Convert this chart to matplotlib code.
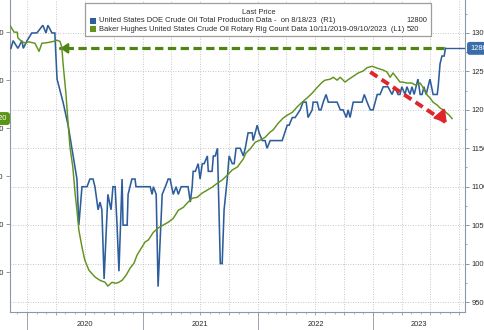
import matplotlib
matplotlib.use("Agg")
import matplotlib.pyplot as plt
import matplotlib.dates as mdates
import matplotlib.transforms as mtransforms
from matplotlib.patches import Rectangle
from matplotlib.ticker import MultipleLocator, FixedLocator
import pandas as pd

W, H = 485, 330
BLUE = '#2e5d9b'
GREEN = '#63921e'
DASH_GREEN = '#4f8512'
RED = '#e0262a'
GRID = '#b4b4b4'
SPINE = '#8b98a5'
TXT = '#2a2a2a'
FONT = 'Liberation Sans'
FS = 5.4

# US crude production, thousand b/d (right axis)
prod_dates = ['2019-11-11', '2019-11-18', '2019-12-03', '2019-12-16', '2019-12-20', '2020-01-01',
              '2020-01-16', '2020-02-01', '2020-02-20', '2020-03-01', '2020-03-07', '2020-03-20',
              '2020-03-29', '2020-04-05', '2020-04-24', '2020-05-10', '2020-05-22', '2020-06-07',
              '2020-06-13', '2020-06-23', '2020-07-09', '2020-07-18', '2020-07-28', '2020-08-03',
              '2020-08-13', '2020-08-19', '2020-08-25', '2020-09-01', '2020-09-13', '2020-09-23',
              '2020-09-29', '2020-10-06', '2020-10-12', '2020-10-18', '2020-10-28', '2020-10-31',
              '2020-11-13', '2020-11-16', '2020-11-28', '2020-12-08', '2020-12-11', '2020-12-17',
              '2021-01-10', '2021-01-25', '2021-01-31', '2021-02-04', '2021-02-13', '2021-02-19',
              '2021-03-04', '2021-03-14', '2021-03-23', '2021-03-29', '2021-04-08', '2021-04-17',
              '2021-04-24', '2021-05-03', '2021-05-25', '2021-06-01', '2021-06-07', '2021-06-10',
              '2021-06-17', '2021-06-26', '2021-07-02', '2021-07-09', '2021-07-15', '2021-07-25',
              '2021-07-28', '2021-08-09', '2021-08-13', '2021-08-19', '2021-08-26', '2021-09-04',
              '2021-09-10', '2021-09-16', '2021-09-26', '2021-10-02', '2021-10-12', '2021-10-18',
              '2021-10-24', '2021-11-06', '2021-11-16', '2021-11-22', '2021-12-01', '2021-12-14',
              '2021-12-17', '2021-12-30', '2022-01-05', '2022-01-15', '2022-01-24', '2022-01-30',
              '2022-02-09', '2022-03-19', '2022-04-04', '2022-04-10', '2022-04-20', '2022-04-29',
              '2022-05-15', '2022-05-24', '2022-06-03', '2022-06-09', '2022-06-22', '2022-06-25',
              '2022-07-08', '2022-07-14', '2022-07-20', '2022-07-27', '2022-08-05', '2022-08-12',
              '2022-09-09', '2022-09-19', '2022-09-28', '2022-10-08', '2022-10-14', '2022-10-20',
              '2022-10-30', '2022-11-27', '2022-12-04', '2022-12-13', '2022-12-23', '2023-01-01',
              '2023-01-14', '2023-01-23', '2023-02-02', '2023-02-17', '2023-03-02', '2023-03-11',
              '2023-03-21', '2023-03-27', '2023-04-02', '2023-04-12', '2023-04-18', '2023-04-28',
              '2023-05-04', '2023-05-11', '2023-05-23', '2023-05-30', '2023-06-05', '2023-06-11',
              '2023-06-18', '2023-06-24', '2023-06-30', '2023-07-10', '2023-07-23', '2023-07-26',
              '2023-08-01', '2023-08-07', '2023-08-14', '2023-08-18']
prod_values = [12800, 12900, 12800, 12900, 12800, 12900,
               13000, 13000, 13100, 13000, 13100, 13000,
               13000, 12400, 12100, 11800, 11500, 11100,
               10500, 11000, 11000, 11100, 11100, 11000,
               10700, 10800, 10700, 9800, 10900, 10700,
               11000, 11000, 10500, 9900, 11100, 10500,
               10500, 10900, 11100, 11100, 11000, 11000,
               11000, 11000, 10900, 11000, 10900, 9700,
               10900, 11000, 11100, 11100, 10900, 11000,
               10900, 11000, 11000, 10800, 11000, 11200,
               11200, 11300, 11100, 11300, 11300, 11400,
               11200, 11200, 11400, 11400, 11500, 10000,
               10000, 10700, 11100, 11400, 11300, 11300,
               11500, 11500, 11400, 11500, 11700, 11700,
               11600, 11800, 11700, 11600, 11600, 11500,
               11600, 11600, 11800, 11800, 11900, 11900,
               12000, 12100, 12100, 11900, 12000, 12100,
               12100, 12000, 12000, 12100, 12200, 12100,
               12100, 12000, 12000, 11900, 12000, 11900,
               12100, 12100, 12200, 12100, 12000, 12000,
               12200, 12200, 12300, 12300, 12200, 12300,
               12200, 12200, 12300, 12200, 12300, 12200,
               12300, 12200, 12400, 12200, 12200, 12300,
               12200, 12300, 12400, 12200, 12200, 12300,
               12600, 12700, 12700, 12800]

# Baker Hughes oil rig count (left axis)
rig_dates = ['2019-11-08', '2019-11-21', '2019-12-01', '2019-12-03', '2019-12-16', '2019-12-29',
             '2020-01-04', '2020-01-26', '2020-02-01', '2020-02-08', '2020-02-17', '2020-03-04',
             '2020-03-20', '2020-04-05', '2020-04-14', '2020-04-20', '2020-04-24', '2020-05-03',
             '2020-05-10', '2020-05-16', '2020-05-25', '2020-06-01', '2020-06-07', '2020-06-13',
             '2020-06-23', '2020-07-02', '2020-07-15', '2020-08-03', '2020-08-19', '2020-09-04',
             '2020-09-13', '2020-09-26', '2020-10-06', '2020-10-15', '2020-10-28', '2020-11-10',
             '2020-11-22', '2020-12-05', '2020-12-14', '2020-12-24', '2021-01-09', '2021-01-19',
             '2021-02-04', '2021-02-19', '2021-03-07', '2021-03-23', '2021-04-08', '2021-04-24',
             '2021-05-10', '2021-05-25', '2021-06-07', '2021-06-23', '2021-07-09', '2021-07-25',
             '2021-08-09', '2021-08-25', '2021-09-10', '2021-09-26', '2021-10-12', '2021-10-28',
             '2021-11-16', '2021-11-24', '2021-12-08', '2021-12-24', '2022-01-08', '2022-01-24',
             '2022-02-09', '2022-02-18', '2022-03-06', '2022-03-22', '2022-04-04', '2022-04-20',
             '2022-05-05', '2022-05-21', '2022-06-06', '2022-06-22', '2022-07-08', '2022-07-24',
             '2022-08-02', '2022-08-18', '2022-08-28', '2022-09-09', '2022-09-19', '2022-10-04',
             '2022-10-14', '2022-10-30', '2022-11-15', '2022-11-30', '2022-12-13', '2022-12-29',
             '2023-01-14', '2023-02-02', '2023-02-14', '2023-02-24', '2023-03-05', '2023-03-18',
             '2023-03-27', '2023-04-05', '2023-04-18', '2023-05-04', '2023-05-14', '2023-05-30',
             '2023-06-08', '2023-06-21', '2023-06-30', '2023-07-10', '2023-07-23', '2023-08-01',
             '2023-08-11', '2023-08-23', '2023-08-30', '2023-09-08']
rig_values = [714, 700, 700, 688, 680, 677,
              680, 677, 669, 660, 677, 678,
              680, 683, 681, 669, 635, 573,
              510, 460, 419, 365, 329, 288,
              252, 225, 204, 190, 183, 179,
              171, 179, 177, 178, 183, 194,
              208, 219, 235, 246, 263, 267,
              283, 292, 298, 304, 312, 329,
              335, 346, 354, 356, 365, 371,
              377, 385, 392, 402, 413, 419,
              436, 448, 457, 471, 475, 481,
              492, 496, 510, 521, 527, 533,
              544, 554, 563, 573, 585, 596,
              600, 602, 606, 600, 606, 596,
              601, 608, 615, 619, 626, 629,
              625, 621, 617, 606, 615, 604,
              596, 596, 594, 594, 590, 594,
              585, 569, 563, 554, 548, 542,
              538, 531, 527, 520]

prod_last = 12800
rig_last = 520
prod_ticks = [9500, 10000, 10500, 11000, 11500, 12000, 12500, 13000]
rig_ticks = [200, 300, 400, 500, 600, 700]
years = [2020, 2021, 2022, 2023]

x_start, x_end = pd.Timestamp('2019-11-08'), pd.Timestamp('2023-10-19')
prod_lim = (9370, 13429)
rig_lim = (117, 767)

# annotation anchors
level_arrow = (pd.Timestamp('2023-08-14'), pd.Timestamp('2020-04-12'))   # green dashed, at prod_last
trend_arrow = ((pd.Timestamp('2022-12-23'), 617), (pd.Timestamp('2023-08-24'), 510))  # red, rig axis

plt.rcParams['font.family'] = [FONT, 'DejaVu Sans']

fig = plt.figure(figsize=(W / 100, H / 100), dpi=100)
fig.patch.set_facecolor('white')
ax = fig.add_axes([10 / W, 18 / H, 455 / W, 312 / H])   # production -> right axis
ax2 = ax.twinx()                                          # rigs -> left axis
ax.yaxis.tick_right()
ax2.yaxis.tick_left()
ax2.patch.set_visible(False)

pdates = pd.to_datetime(prod_dates)
rdates = pd.to_datetime(rig_dates)

ax.plot(pdates, prod_values, color=BLUE, lw=1.15, solid_joinstyle='miter', zorder=3)
ax.plot([pdates[-1], x_end], [prod_last, prod_last], color=BLUE, lw=1.0, zorder=3)
ax2.plot(rdates, rig_values, color=GREEN, lw=1.05, zorder=3)

ax.set_xlim(x_start, x_end)
ax.set_ylim(*prod_lim)
ax2.set_ylim(*rig_lim)

# spines
for a in (ax, ax2):
    for s in a.spines.values():
        s.set_visible(False)
for s in ('left', 'right', 'bottom'):
    ax.spines[s].set_visible(True)
    ax.spines[s].set_color(SPINE)
    ax.spines[s].set_linewidth(0.8)

# y ticks
ax.yaxis.set_major_locator(FixedLocator(prod_ticks))
ax.yaxis.set_minor_locator(MultipleLocator(250))
ax.tick_params(axis='y', which='major', direction='out', length=3, width=0.7, color=SPINE,
               labelsize=FS, labelcolor=TXT, pad=1.5)
ax.tick_params(axis='y', which='minor', direction='out', length=1.5, width=0.6, color=SPINE)
ax2.yaxis.set_major_locator(FixedLocator(rig_ticks))
ax2.tick_params(axis='y', which='major', direction='out', length=3, width=0.7, color=SPINE,
                labelsize=FS, labelcolor=TXT, pad=1.5)

# x ticks: quarterly grid, monthly minor ticks, labels centred in years
ax.xaxis.set_major_locator(mdates.MonthLocator(bymonth=[1, 4, 7, 10]))
ax.xaxis.set_minor_locator(mdates.MonthLocator())
ax.tick_params(axis='x', which='major', direction='out', length=2.2, width=0.6, color=SPINE,
               labelbottom=False)
ax.tick_params(axis='x', which='minor', direction='out', length=1.5, width=0.5, color=SPINE)

ax.grid(True, which='major', axis='both', color=GRID, lw=0.6, linestyle=(0, (1, 2)))
ax.set_axisbelow(True)

xtrans = mtransforms.blended_transform_factory(ax.transData, ax.transAxes)
for y in years:
    start = pd.Timestamp(f'{y}-01-01')
    end = min(pd.Timestamp(f'{y + 1}-01-01'), x_end)
    ax.plot([start, start], [0, -0.06], transform=xtrans, color=SPINE, lw=0.6, clip_on=False)
    ax.text(start + (end - start) / 2, -0.04, str(y), transform=xtrans, ha='center', va='center',
            fontsize=FS, color=TXT)

# green dashed level arrow (at last production level)
ax.plot([level_arrow[0], level_arrow[1]], [prod_last, prod_last], color=DASH_GREEN, lw=2.3,
        linestyle=(0, (2.6, 1.4)), dash_capstyle='butt', zorder=4)
ax.annotate('', xy=(level_arrow[1] - pd.Timedelta(days=6), prod_last),
            xytext=(level_arrow[1] + pd.Timedelta(days=14), prod_last),
            arrowprops=dict(arrowstyle='-|>,head_length=0.45,head_width=0.3', color=DASH_GREEN, lw=1.5),
            zorder=5)

# red dashed trend arrow
(t0, r0), (t1, r1) = trend_arrow
ax2.plot([t0, t1], [r0, r1], color=RED, lw=2.8, linestyle=(0, (2.2, 1.3)), dash_capstyle='butt', zorder=5)
ax2.annotate('', xy=(t1 + pd.Timedelta(days=4), r1 - 3), xytext=(t1 - pd.Timedelta(days=14), r1 + 11),
             arrowprops=dict(arrowstyle='-|>,head_length=0.7,head_width=0.45', color=RED, lw=1.5),
             zorder=6)

# last value tags
rtrans = mtransforms.blended_transform_factory(ax.transAxes, ax.transData)
ax.text(1.0, prod_last, f'{prod_last}',
        transform=rtrans + mtransforms.ScaledTranslation(5 / 100, 0, fig.dpi_scale_trans),
        ha='left', va='center', fontsize=FS, color='white', clip_on=False,
        bbox=dict(boxstyle='round,pad=0.3,rounding_size=0.25', fc='#3b6ea8', ec='#3b6ea8'))
ltrans = mtransforms.blended_transform_factory(ax2.transAxes, ax2.transData)
ax2.text(0.0, rig_last, f'{rig_last}',
         transform=ltrans + mtransforms.ScaledTranslation(-3 / 100, 0, fig.dpi_scale_trans),
         ha='right', va='center', fontsize=FS, color='white', clip_on=False,
         bbox=dict(boxstyle='round,pad=0.3,rounding_size=0.3', fc='#5b9516', ec='#5b9516'))

# legend box
def fx(x):
    return x / W

def fy(y):
    return 1 - y / H

fig.patches.append(Rectangle((fx(85), fy(36)), fx(431) - fx(85), fy(3) - fy(36),
                             transform=fig.transFigure, fc='white', ec='#9d9d9d', lw=0.9, zorder=10))
fig.text(fx(259), fy(13), 'Last Price', ha='center', va='center', fontsize=FS, color=TXT, zorder=11)
fig.patches.append(Rectangle((fx(90), fy(24)), fx(6), fy(0) - fy(6), transform=fig.transFigure,
                             fc=BLUE, ec='none', zorder=11))
fig.patches.append(Rectangle((fx(90), fy(32)), fx(6), fy(0) - fy(6), transform=fig.transFigure,
                             fc=GREEN, ec='none', zorder=11))
fig.text(fx(99), fy(21), 'United States DOE Crude Oil Total Production Data -  on 8/18/23  (R1)',
         ha='left', va='center', fontsize=FS, color=TXT, zorder=11)
fig.text(fx(427), fy(21), f'{prod_last}', ha='right', va='center', fontsize=FS, color=TXT, zorder=11)
fig.text(fx(99), fy(29.5),
         'Baker Hughes United States Crude Oil Rotary Rig Count Data 10/11/2019-09/10/2023  (L1)',
         ha='left', va='center', fontsize=FS, color=TXT, zorder=11)
fig.text(fx(419), fy(29.5), f'{rig_last}', ha='right', va='center', fontsize=FS, color=TXT, zorder=11)

fig.savefig('out.png', dpi=100)
